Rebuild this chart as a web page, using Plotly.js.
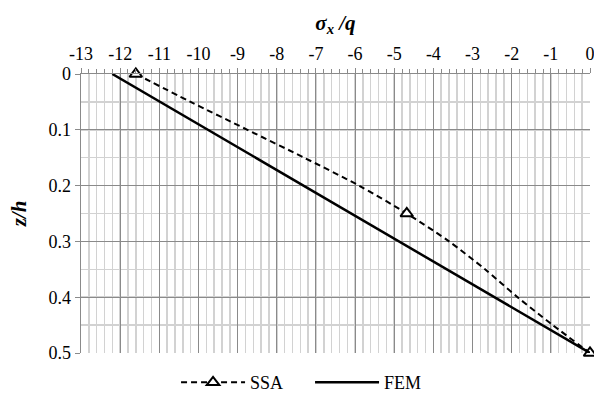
<!DOCTYPE html>
<html>
<head>
<meta charset="utf-8">
<script src="https://cdn.plot.ly/plotly-3.0.1.min.js"></script>
<style>html,body{margin:0;padding:0;background:#fff;}#chart{width:594px;height:408px;}</style>
</head>
<body>
<div id="chart"></div>
<script>
// Data
const ssaZ = [0, 0.05, 0.1, 0.15, 0.2, 0.25, 0.3, 0.35, 0.4, 0.45, 0.5];
const ssaX = [-11.6, -10.2, -8.75, -7.3, -5.9, -4.68, -3.6, -2.68, -1.85, -0.95, 0];
const ssaMarked = [true, false, false, false, false, true, false, false, false, false, true];
const femZ = [0, 0.5];
const femX = [-12.2, 0];
const xTickVals = [-13, -12, -11, -10, -9, -8, -7, -6, -5, -4, -3, -2, -1, 0];
const yTickVals = [0, 0.1, 0.2, 0.3, 0.4, 0.5];
const yTickText = ['0', '0.1', '0.2', '0.3', '0.4', '0.5'];

const font = "Liberation Serif";
const majorGrid = '#8a8a8a';
const minorGrid = '#d2d2d2';

const traces = [
  {
    name: 'SSA', x: ssaX, y: ssaZ, mode: 'lines+markers', type: 'scatter',
    line: {color: '#000', width: 2, dash: '6px,4px', shape: 'spline', smoothing: 0.8},
    marker: {
      symbol: 'triangle-up', size: 11,
      color: ssaMarked.map(m => m ? '#ffffff' : 'rgba(0,0,0,0)'),
      line: {width: 2, color: ssaMarked.map(m => m ? '#000000' : 'rgba(0,0,0,0)')}
    },
    cliponaxis: false
  },
  {
    name: 'FEM', x: femX, y: femZ, mode: 'lines', type: 'scatter',
    line: {color: '#000', width: 2.5}
  }
];

const layout = {
  width: 594, height: 408,
  margin: {l: 81, r: 4, t: 74, b: 55},
  paper_bgcolor: '#fff', plot_bgcolor: '#fff',
  font: {family: font, size: 18, color: '#000'},
  showlegend: true,
  legend: {
    orientation: 'h', x: 0.45, xanchor: 'center', xref: 'paper',
    y: -0.04, yanchor: 'top', itemwidth: 64, entrywidth: 55,
    font: {family: font, size: 18, color: '#000'}, traceorder: 'normal'
  },
  xaxis: {
    side: 'top', range: [-13, 0], tickvals: xTickVals, ticktext: xTickVals.map(String),
    showline: true, linecolor: majorGrid, linewidth: 1.5, mirror: false,
    showgrid: true, gridcolor: majorGrid, gridwidth: 1,
    ticks: 'outside', ticklen: 5, tickcolor: majorGrid, tickwidth: 1,
    minor: {dtick: 0.2, showgrid: true, gridcolor: minorGrid, gridwidth: 1.5, ticks: 'outside', ticklen: 4, tickcolor: majorGrid},
    zeroline: false, tickfont: {family: font, size: 18, color: '#000'}, ticklabeloverflow: 'allow',
    title: {text: '<b><i>σ<sub>x</sub> /q</i></b>', font: {family: font, size: 21, color: '#000'}, standoff: 8}
  },
  yaxis: {
    range: [0.5, 0], tickvals: yTickVals, ticktext: yTickText,
    showline: true, linecolor: majorGrid, linewidth: 1.5,
    showgrid: true, gridcolor: majorGrid, gridwidth: 1,
    ticks: 'outside', ticklen: 5, tickcolor: majorGrid,
    minor: {dtick: 0.05, showgrid: true, gridcolor: minorGrid, gridwidth: 1.5},
    zeroline: false, tickfont: {family: font, size: 18, color: '#000'}, ticklabeloverflow: 'allow',
    title: {text: '<b><i>z/h</i></b>', font: {family: font, size: 21, color: '#000'}, standoff: 16}
  }
};

Plotly.newPlot('chart', traces, layout, {staticPlot: true, displayModeBar: false});
</script>
</body>
</html>
